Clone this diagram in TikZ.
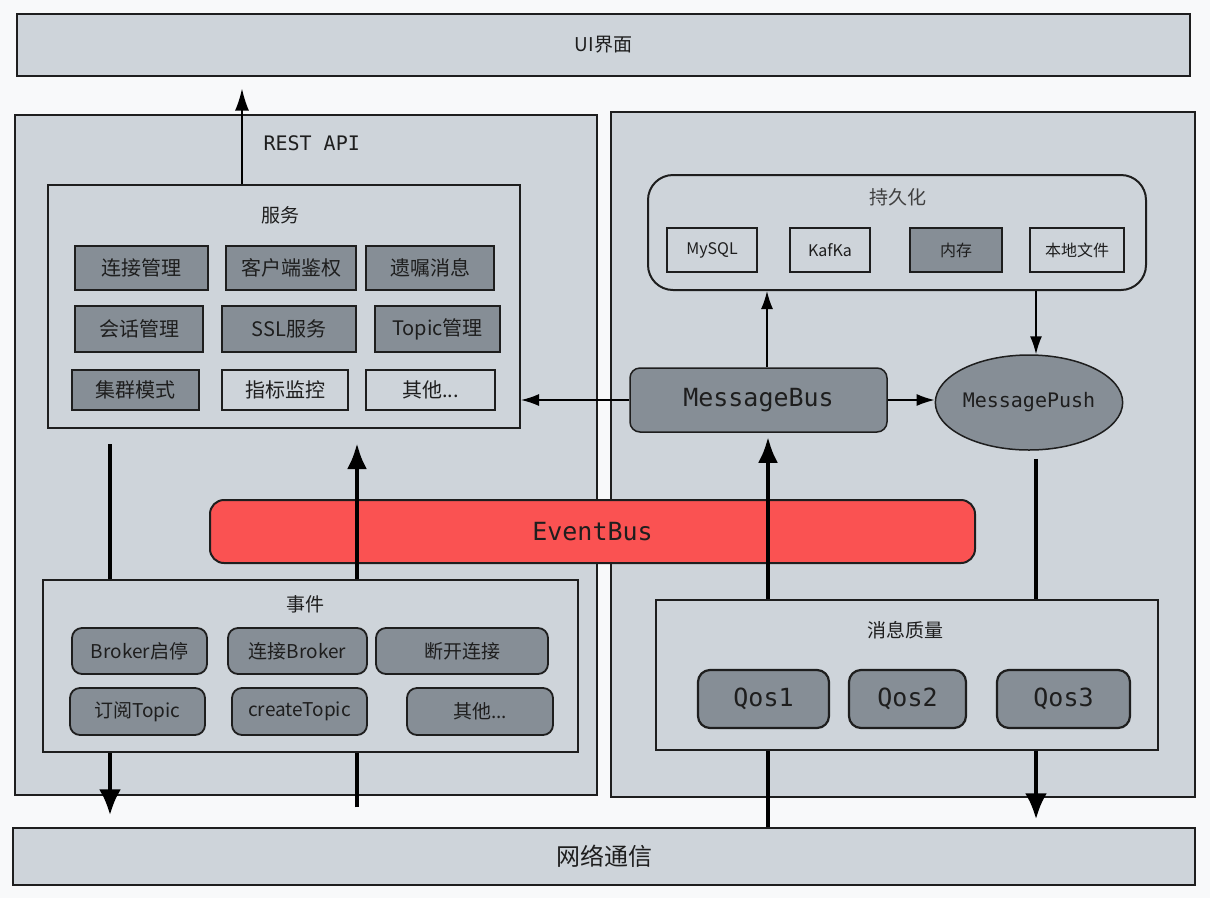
\documentclass[tikz,border=0pt]{standalone}
\usepackage{fontspec}
\setmainfont{Noto Sans CJK SC}
\setmonofont{DejaVu Sans Mono}
\usetikzlibrary{arrows.meta,shapes.geometric}
\definecolor{bgwhite}{HTML}{F8F9FA}
\definecolor{panelgray}{HTML}{CED4DA}
\definecolor{boxgray}{HTML}{868E96}
\definecolor{busred}{HTML}{FA5252}
\definecolor{inkblack}{HTML}{1E1E1E}
\newcommand{\fsz}[1]{\fontsize{#1pt}{#1pt}\selectfont}
\tikzset{
	wh/.style 2 args={minimum width=#1pt, minimum height=#2pt, inner sep=0pt},
	bar/.style={draw=inkblack, line width=1.2pt, fill=panelgray, text=inkblack},
	frame/.style={draw=inkblack, line width=2pt},
	title/.style={text=inkblack, font=\fsz{19}},
	gbox/.style={draw=inkblack, line width=2pt, fill=boxgray, text=inkblack, font=\fsz{20}},
	wbox/.style={draw=inkblack, line width=2pt, text=inkblack, font=\fsz{20}},
	rbox/.style={draw=inkblack, line width=1.8pt, fill=boxgray, rounded corners=10pt, text=inkblack, font=\fsz{19}},
	sbox/.style={draw=inkblack, line width=2pt, text=inkblack, font=\fsz{16}},
	qbox/.style={draw=inkblack, line width=2.2pt, fill=boxgray, rounded corners=12pt, text=inkblack, font=\ttfamily\fsz{25}},
	thickarr/.style={line width=4.5pt, draw=black},
	thinarr/.style={line width=1.5pt, draw=black},
}
\begin{document}
\begin{tikzpicture}[x=1pt, y=-1pt]
	\useasboundingbox (0, 0) rectangle (1210, 898);
		\fill[bgwhite] (0, 0) rectangle (1210, 898);
		% top and bottom
		\node[bar, wh={1173}{62}, font=\fsz{19}] (ui) at (603.5, 45) {UI界面};
		\node[bar, wh={1182}{57}, font=\fsz{24}] (net) at (604, 856.5) {网络通信};
		\node[bar, wh={582}{680}] (lpanel) at (306, 455) {};
		\node[bar, wh={584}{685}] (rpanel) at (903, 454.5) {};
		% services
		\node[frame, wh={472}{243}] (svc) at (284, 306.5) {};
		\node[title] (svctitle) at (280, 215) {服务};
		\node[gbox, wh={133}{44}] (connmgr) at (141.5, 268) {连接管理};
		\node[gbox, wh={130}{44}] (clientauth) at (291, 268) {客户端鉴权};
		\node[gbox, wh={128}{44}] (willmsg) at (430, 268) {遗嘱消息};
		\node[gbox, wh={128}{46}] (sessmgr) at (139, 329) {会话管理};
		\node[gbox, wh={134}{46}] (sslsvc) at (289, 329) {SSL服务};
		\node[gbox, wh={125}{46}] (topicmgr) at (437.5, 329) {Topic管理};
		\node[gbox, wh={127}{40}] (cluster) at (135.5, 390) {集群模式};
		\node[wbox, wh={126}{40}] (metrics) at (285, 390) {指标监控};
		\node[wbox, wh={129}{40}] (svcother) at (430.5, 390) {其他...};
		% events
		\node[bar, frame, wh={535}{172}] (evt) at (310.5, 666) {};
		\node[title] (evttitle) at (305, 604) {事件};
		\node[rbox, wh={135}{46}] (brokerss) at (139.5, 651) {Broker启停};
		\node[rbox, wh={139}{46}] (connbroker) at (297.5, 651) {连接Broker};
		\node[rbox, wh={172}{46}] (disconn) at (462, 651) {断开连接};
		\node[rbox, wh={135}{47}] (subtopic) at (137.5, 711.5) {订阅Topic};
		\node[rbox, wh={135}{47}] (createtopic) at (299.5, 711.5) {createTopic};
		\node[rbox, wh={146}{47}] (evtother) at (480, 711.5) {其他...};
		% persistence
		\node[frame, wh={498}{115}, rounded corners=25pt] (store) at (897, 232.5) {};
		\node[title, text=black!75] (storetitle) at (898, 197) {持久化};
		\node[sbox, wh={90}{44}] (mysql) at (712, 250) {MySQL};
		\node[sbox, wh={80}{44}] (kafka) at (830, 250) {KafKa};
		\node[sbox, fill=boxgray, wh={92}{44}] (memory) at (956, 250) {内存};
		\node[sbox, wh={94}{44}] (localfile) at (1077, 250) {本地文件};
		% bus and push
		\node[qbox, line width=1.5pt, rounded corners=10pt, wh={257}{64}] (mbus) at (758.5, 400) {MessageBus};
		\node[qbox, line width=1.5pt, ellipse, font=\ttfamily\fsz{20}, wh={162}{95}] (mpush) at (1029, 402.5) {MessagePush};
		% qos
		\node[bar, line width=1.5pt, wh={502}{150}] (qos) at (907, 675) {};
		\node[title] (qostitle) at (905, 630) {消息质量};
		\node[qbox, wh={131}{58}] (qos1) at (763.5, 699) {Qos1};
		\node[qbox, wh={117}{58}] (qos2) at (907.5, 699) {Qos2};
		\node[qbox, wh={133}{58}] (qos3) at (1063.5, 699) {Qos3};
		% event bus
		\node[qbox, fill=busred, line width=2pt, rounded corners=14pt, wh={765}{63}] (bus) at (592.5, 531.5) {EventBus};
		% connectors
		\coordinate (xrest) at (242, 0);
		\coordinate (xdown) at (110, 0);
		\coordinate (xup) at (357, 0);
		\coordinate (xmsg) at (768, 0);
		\coordinate (xpush) at (1036, 0);
		\coordinate (xstore) at (767, 0);
		\draw[thinarr, -{Latex[length=22pt, width=14pt]}, shorten >=12pt] (svc.north -| xrest) to (ui.south -| xrest);
		\node[right, font=\ttfamily\fsz{20}, text=inkblack] (restlbl) at (260, 143) {REST API};
		\draw[thickarr, shorten <=15pt] (svc.south -| xdown) to (evt.north -| xdown);
		\draw[thickarr, -{Latex[length=26pt, width=22pt]}, shorten >=12pt] (evt.south -| xdown) to (net.north -| xdown);
		\draw[thickarr, -{Latex[length=26pt, width=20pt]}, shorten >=14pt] (evt.north -| xup) to (svc.south -| xup);
		\draw[thickarr, shorten <=20pt] (net.north -| xup) to (evt.south -| xup);
		\draw[thickarr] (net.north -| xmsg) to (qos.south -| xmsg);
		\draw[thickarr, -{Latex[length=26pt, width=20pt]}, shorten >=4pt] (qos.north -| xmsg) to (mbus.south -| xmsg);
		\draw[thickarr, shorten <=8pt] (mpush.south -| xpush) to (qos.north -| xpush);
		\draw[thickarr, -{Latex[length=26pt, width=22pt]}, shorten >=8pt] (qos.south -| xpush) to (net.north -| xpush);
		\draw[thinarr, -{Latex[length=18pt, width=12pt]}] (mbus.west) to (svc.east |- mbus.west);
		\draw[thinarr, -{Latex[length=18pt, width=12pt]}] (mbus.east) to (mpush.west |- mbus.east);
		\draw[thinarr, -{Latex[length=18pt, width=12pt]}] (mbus.north -| xstore) to (store.south -| xstore);
		\draw[thinarr, -{Latex[length=18pt, width=12pt]}] (store.south -| xpush) to (mpush.north -| xpush);
	\end{tikzpicture}
\end{document}
